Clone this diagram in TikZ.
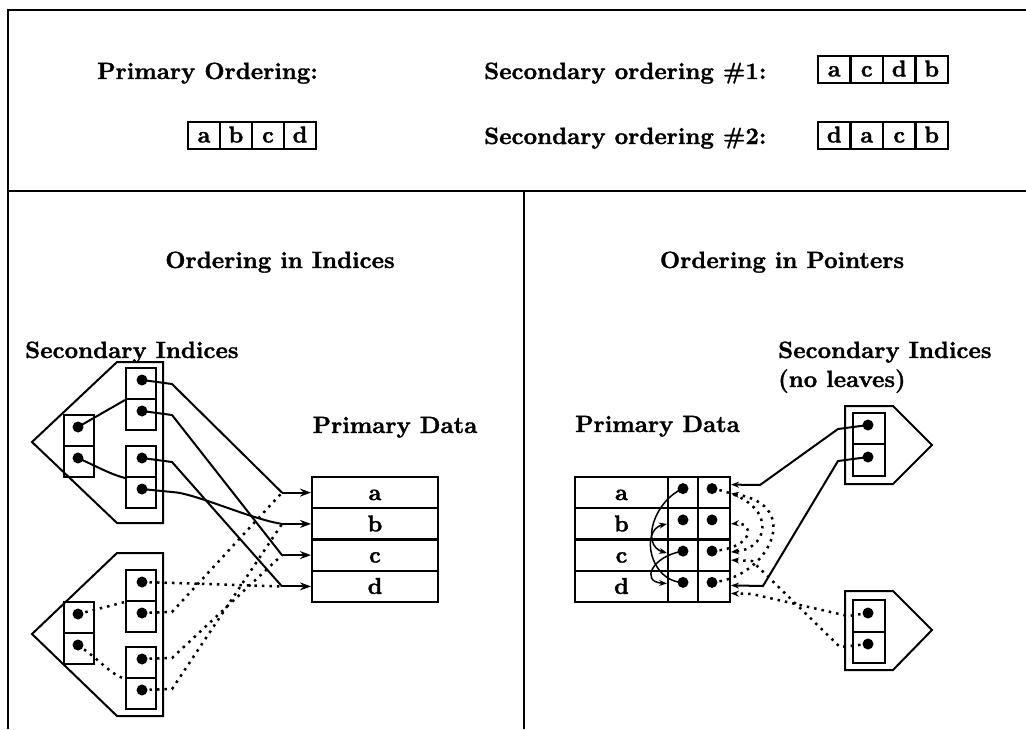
\documentclass[tikz,border=0pt]{standalone}
\usepackage{fontspec}
\usetikzlibrary{arrows.meta}
\newfontfamily\lblfont{lmroman10-bold}[Extension=.otf, FakeBold=1.3]
\begin{document}
\begin{tikzpicture}[x=1pt,y=-1pt,
  frame/.style={line width=2.8pt},
  link/.style={line width=2pt},
  link2/.style={line width=1.5pt},
  dotlink/.style={line width=2.5pt, dash pattern=on 2.5pt off 5pt},
  tip/.style={-{Stealth[length=11pt,width=8pt]}},
  tip2/.style={-{Stealth[length=8pt,width=6pt]}},
  lbl/.style={font=\fontsize{23.5}{27}\lblfont, inner sep=0pt},
  cell/.style={draw, line width=2pt, minimum width=32pt, minimum height=27pt, inner sep=0pt,
    font=\fontsize{23}{26}\lblfont, text height=15pt, text depth=0pt},
  row/.style={draw, line width=2pt, minimum width=126pt, minimum height=31.25pt, inner sep=0pt,
    font=\fontsize{23}{26}\lblfont, text height=15pt, text depth=0pt},
  rcell/.style={draw, line width=2pt, minimum height=31.25pt, inner sep=0pt,
    font=\fontsize{23}{26}\lblfont, text height=15pt, text depth=0pt},
  idx/.style={draw, line width=2pt, minimum width=30pt, minimum height=31pt, inner sep=0pt},
  ridx/.style={draw, line width=2pt, minimum width=32pt, minimum height=31.5pt, inner sep=0pt},
  ptdot/.style={circle, fill, inner sep=0pt, minimum size=11pt}]
\useasboundingbox (0,0) rectangle (1026,729);

% ---------- frame ----------
\draw[frame] (8,729) -- (8,10) -- (1026,10);
\draw[frame] (8,191) -- (1026,191);
\draw[link] (524,191) -- (524,729);

% ---------- orderings ----------
\node[lbl, anchor=base west] (tpo) at (97,79) {Primary Ordering:};
\node[lbl, anchor=base west] (ts1) at (484,79) {Secondary ordering \#1:};
\node[lbl, anchor=base west] (ts2) at (484,144) {Secondary ordering \#2:};

\node[cell] (o1) at (204,135) {a};
\node[cell] (o2) at (236,135) {b};
\node[cell] (o3) at (268,135) {c};
\node[cell] (o4) at (300,135) {d};

\node[cell] (s11) at (834.25,69) {a};
\node[cell] (s12) at (866.75,69) {c};
\node[cell] (s13) at (899.25,69) {d};
\node[cell] (s14) at (931.75,69) {b};

\node[cell] (s21) at (834.25,135) {d};
\node[cell] (s22) at (866.75,135) {a};
\node[cell] (s23) at (899.25,135) {c};
\node[cell] (s24) at (931.75,135) {b};

% ---------- left: ordering in indices ----------
\node[lbl, anchor=base] (hl) at (280,268) {Ordering in Indices};
\node[lbl, anchor=base west] (sil) at (25,358) {Secondary Indices};
\node[lbl, anchor=base] (pdl) at (395,433) {Primary Data};

% primary data
\node[row] (la) at (375,492.6) {a};
\node[row] (lb) at (375,523.9) {b};
\node[row] (lc) at (375,555.1) {c};
\node[row] (ld) at (375,586.4) {d};
\coordinate (ja) at (282,492.6);
\coordinate (jb) at (282,523.9);
\coordinate (jc) at (282,555.1);
\coordinate (jd) at (282,586.4);
\foreach \r in {a,b,c,d} \draw[link,tip] (j\r) -- (l\r.west);

% index tree #1
\draw[link] (163,362) -- (117,362) -- (32,442) -- (117,523) -- (163,523) -- cycle;
\node[idx] (r1a) at (79,430.5) {};
\node[idx] (r1b) at (79,461.5) {};
\node[idx] (p1a) at (141,383.5) {};
\node[idx] (p1b) at (141,414.5) {};
\node[idx] (p1c) at (141,461.5) {};
\node[idx] (p1d) at (141,492.5) {};
\node[ptdot] (q1a) at (78,427) {};
\node[ptdot] (q1b) at (78,458) {};
\node[ptdot] (d1a) at (142,380) {};
\node[ptdot] (d1b) at (142,411) {};
\node[ptdot] (d1c) at (142,458) {};
\node[ptdot] (d1d) at (142,489) {};
\draw[link] (q1a.center) -- (p1a.south west);
\draw[link] (q1b.center) .. controls (100,468) and (110,474) .. (p1c.south west);
\draw[link] (d1a.center) -- (172,384) -- (ja);
\draw[link] (d1b.center) -- (172,415) -- (jc);
\draw[link] (d1c.center) -- (172,462) -- (jd);
\draw[link] (d1d.center) -- (172,492) .. controls (195,493) and (250,519) .. (jb);

% index tree #2
\draw[link] (163,553) -- (117,553) -- (32,634) -- (117,716) -- (163,716) -- cycle;
\node[idx] (r2a) at (79,617.5) {};
\node[idx] (r2b) at (79,648.5) {};
\node[idx] (p2a) at (141,585.5) {};
\node[idx] (p2b) at (141,616.5) {};
\node[idx] (p2c) at (141,662.5) {};
\node[idx] (p2d) at (141,693.5) {};
\node[ptdot] (q2a) at (78,614) {};
\node[ptdot] (q2b) at (78,645) {};
\node[ptdot] (d2a) at (142,582) {};
\node[ptdot] (d2b) at (142,613) {};
\node[ptdot] (d2c) at (142,659) {};
\node[ptdot] (d2d) at (142,690) {};
\draw[dotlink] (q2a.center) -- (p2a.south west);
\draw[dotlink] (q2b.center) .. controls (100,660) and (110,674) .. (p2c.south west);
\draw[dotlink] (d2a.center) -- (jd);
\draw[dotlink] (d2b.center) -- (172,612) -- (ja);
\draw[dotlink] (d2c.center) -- (172,658) -- (jc);
\draw[dotlink] (d2d.center) -- (172,689) -- (jb);

% ---------- right: ordering in pointers ----------
\node[lbl, anchor=base] (hr) at (782,268) {Ordering in Pointers};
\node[lbl, anchor=base west] (sir) at (778,358) {Secondary Indices};
\node[lbl, anchor=base west] (nl) at (778,387) {(no leaves)};
\node[lbl, anchor=base west] (pdr) at (575,432) {Primary Data};

% primary data with two pointer columns
\foreach \r/\y in {a/492.6,b/523.9,c/555.1,d/586.4}{
  \node[rcell, minimum width=93pt] (r\r1) at (621.5,\y) {\r};
  \node[rcell, minimum width=30pt] (r\r2) at (683,\y) {};
  \node[rcell, minimum width=32pt] (r\r3) at (714,\y) {};
  \node[ptdot] (s\r2) at (683,\y-4) {};
  \node[ptdot] (s\r3) at (712,\y-4) {};
}

% chain for ordering #1 (a, c, d, b)
\draw[link2,tip2] (sa2.center) .. controls (655,500) and (640,545) .. ([yshift=2pt]rc2.west);
\draw[link2,tip2] (sc2.center) .. controls (652,556) and (640,582) .. ([yshift=3pt]rd2.west);
\draw[link2,tip2] (sd2.center) .. controls (650,582) and (640,530) .. ([yshift=0pt]rb2.west);

% chain for ordering #2 (d, a, c, b)
\draw[dotlink,tip2] (sd3.center) .. controls (768,578) and (805,505) .. ([yshift=-1pt]ra3.east);
\draw[dotlink,tip2] (sa3.center) .. controls (778,500) and (772,548) .. ([yshift=3pt]rc3.east);
\draw[dotlink,tip2] (sc3.center) .. controls (755,548) and (755,522) .. ([yshift=0pt]rb3.east);

% index #1 (no leaves)
\draw[link] (845,406) -- (893,406) -- (932,445) -- (893,484) -- (845,484) -- cycle;
\node[ridx] (u1a) at (869,428.5) {};
\node[ridx] (u1b) at (869,460) {};
\node[ptdot] (e1a) at (868,425) {};
\node[ptdot] (e1b) at (868,457) {};
\draw[link,tip2] (e1a.center) -- (838,429) -- (760,485) -- ([yshift=8pt]ra3.east);
\draw[link,tip2] (e1b.center) -- (838,461) -- (763,586) -- ([yshift=1pt]rd3.east);

% index #2 (no leaves)
\draw[link] (845,591) -- (893,591) -- (932,630) -- (893,670) -- (845,670) -- cycle;
\node[ridx] (u2a) at (869,616) {};
\node[ridx] (u2b) at (869,647.5) {};
\node[ptdot] (e2a) at (868,613) {};
\node[ptdot] (e2b) at (868,644) {};
\draw[dotlink,tip2] (e2a.center) -- (848,616) -- (752,594) -- ([yshift=-7pt]rd3.east);
\draw[dotlink,tip2] (e2b.center) -- (840,647) -- (752,561) -- ([yshift=-5pt]rc3.east);
\end{tikzpicture}
\end{document}
